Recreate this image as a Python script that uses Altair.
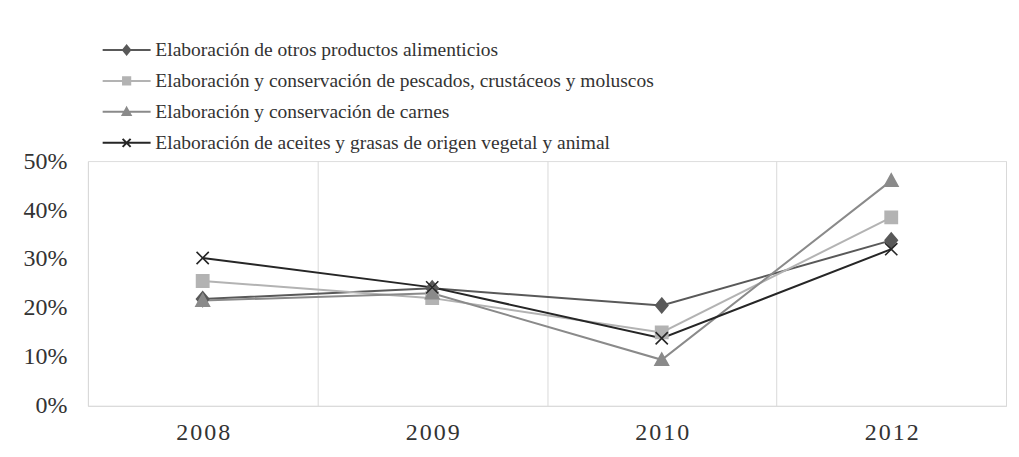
import json
import altair as alt
import pandas as pd

years = ["2008", "2009", "2010", "2012"]
series = [
    "Elaboración de otros productos alimenticios",
    "Elaboración y conservación de pescados, crustáceos y moluscos",
    "Elaboración y conservación de carnes",
    "Elaboración de aceites y grasas de origen vegetal y animal",
]
otros = [0.218, 0.240, 0.205, 0.338]
pescados = [0.255, 0.220, 0.150, 0.385]
carnes = [0.215, 0.230, 0.094, 0.460]
aceites = [0.302, 0.242, 0.138, 0.320]
y_ticks = [0, 0.1, 0.2, 0.3, 0.4, 0.5]

colors = ["#595959", "#b3b3b3", "#8a8a8a", "#262626"]
marker_paths = [
    "M0,-1.2L1,0L0,1.2L-1,0Z",
    "M-1,-1L1,-1L1,1L-1,1Z",
    "M0,-1.1L1.1,0.9L-1.1,0.9Z",
    "M-1,-1L1,1M-1,1L1,-1",
]
legend_paths = [
    "M-6,0L6,0M0,-1.1L0.9,0L0,1.1L-0.9,0Z",
    "M-6,0L6,0M-0.9,-0.9L0.9,-0.9L0.9,0.9L-0.9,0.9Z",
    "M-6,0L6,0M0,-1L1,0.8L-1,0.8Z",
    "M-6,0L6,0M-1,-1L1,1M-1,1L1,-1",
]

rows = []
for name, vals in zip(series, [otros, pescados, carnes, aceites]):
    for i, (yr, v) in enumerate(zip(years, vals)):
        rows.append({"serie": name, "year": yr, "pos": i + 0.5, "value": v})
df = pd.DataFrame(rows)

FONT = "Liberation Serif"
spaced = ["\u200a".join(list(y)) for y in years]
label_expr = (
    "abs(datum.value % 1 - 0.5) < 0.01 ? "
    + json.dumps(spaced)
    + "[floor(datum.value)] : ''"
)
x_values = [i * 0.5 for i in range(2 * len(years) + 1)]

x_enc = alt.X(
    "pos:Q",
    scale=alt.Scale(domain=[0, len(years)], nice=False, zero=False),
    axis=alt.Axis(
        title=None,
        values=x_values,
        labelExpr=label_expr,
        grid=True,
        gridColor="#d9d9d9",
        gridWidth=1,
        gridOpacity={"condition": {"test": "datum.value % 1 == 0", "value": 1}, "value": 0},
        ticks=False,
        domain=True,
        domainColor="#d9d9d9",
        domainWidth=1,
        labelFont=FONT,
        labelFontSize=24,
        labelColor="#333333",
        labelPadding=15,
        labelOverlap=False,
    ),
)
y_enc = alt.Y(
    "value:Q",
    scale=alt.Scale(domain=[0, 0.5], nice=False),
    axis=alt.Axis(
        title=None,
        values=y_ticks,
        format=".0%",
        grid=False,
        ticks=False,
        domain=False,
        labelFont=FONT,
        labelFontSize=24,
        labelColor="#333333",
        labelPadding=21,
    ),
)

base = alt.Chart(df)

lines = base.mark_line(strokeWidth=2).encode(
    x=x_enc,
    y=y_enc,
    color=alt.Color("serie:N", sort=series,
                    scale=alt.Scale(domain=series, range=colors), legend=None),
)

markers = base.mark_point(filled=True, size=150, strokeWidth=1.6, opacity=1).encode(
    x=x_enc,
    y=y_enc,
    shape=alt.Shape("serie:N", sort=series,
                    scale=alt.Scale(domain=series, range=marker_paths), legend=None),
    fill=alt.Fill("serie:N", sort=series,
                  scale=alt.Scale(domain=series, range=colors), legend=None),
    stroke=alt.Stroke("serie:N", sort=series,
                      scale=alt.Scale(domain=series, range=colors), legend=None),
)

leg = alt.Legend(
    title=None,
    orient="none",
    legendX=29,
    legendY=-121,
    direction="vertical",
    symbolSize=64,
    symbolStrokeWidth=2,
    symbolOpacity=1,
    labelFont=FONT,
    labelFontSize=19.5,
    labelColor="#333333",
    labelOffset=19,
    rowPadding=10,
    padding=0,
    labelLimit=0,
)

legend_layer = base.mark_point(filled=True, size=64, opacity=0).encode(
    x=x_enc,
    y=y_enc,
    shape=alt.Shape("serie:N", sort=series,
                    scale=alt.Scale(domain=series, range=legend_paths), legend=leg),
    fill=alt.Fill("serie:N", sort=series,
                  scale=alt.Scale(domain=series, range=colors), legend=leg),
    stroke=alt.Stroke("serie:N", sort=series,
                      scale=alt.Scale(domain=series, range=colors), legend=leg),
)

chart = (
    alt.layer(lines, markers, legend_layer)
    .resolve_scale(shape="independent", fill="independent", stroke="independent")
    .properties(
        width=919,
        height=245,
        autosize=alt.AutoSizeParams(type="none"),
        padding={"left": 80, "top": 153, "right": 5, "bottom": 45},
    )
    .configure_view(stroke=None)
    .configure(background="white")
)

chart.save("out.html", embed_options={"renderer": "svg", "actions": False})
